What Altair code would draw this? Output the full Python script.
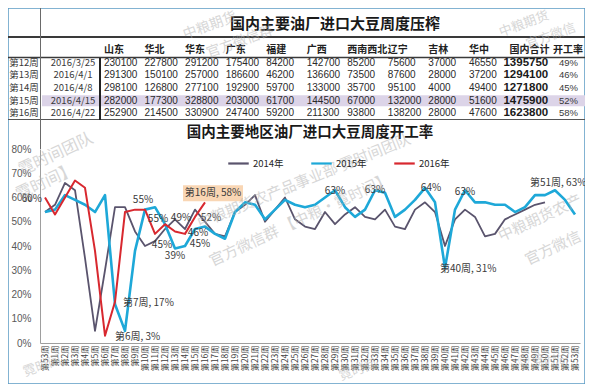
import altair as alt
import pandas as pd

# ---------------- data ----------------
WEEKS = ["第53周", "第1周", "第2周", "第3周", "第4周", "第5周", "第6周", "第7周", "第8周", "第9周",
         "第10周", "第11周", "第12周", "第13周", "第14周", "第15周", "第16周", "第17周", "第18周", "第19周",
         "第20周", "第21周", "第22周", "第23周", "第24周", "第25周", "第26周", "第27周", "第28周", "第29周",
         "第30周", "第31周", "第32周", "第33周", "第34周", "第35周", "第36周", "第37周", "第38周", "第39周",
         "第40周", "第41周", "第42周", "第43周", "第44周", "第45周", "第46周", "第47周", "第48周", "第49周",
         "第50周", "第51周", "第52周", "第53周\u200b"]

SERIES = ["2014年", "2015年", "2016年"]
RATE_2014 = [54, 57, 66, 63, 35, 5, 30, 56, 56, 46,
             40, 42, 47, 51, 47, 55, 50, 45, 44, 54,
             57, 61, 50, 55, 60, 51, 48, 47, 54, 49,
             53, 56, 52, 51, 55, 48, 47, 55, 58, 54,
             40, 51, 55, 52, 44, 45, 51, 53, 55, 57, 58]
RATE_2015 = [54, 55, 61, 59, 57, 54, 61, 16, 5, 38,
             55, 56, 49, 39, 40, 47, 48, 45, 43, 54,
             58, 57, 51, 55, 59, 57, 56, 57, 60, 63,
             56, 52, 55, 63, 62, 52, 55, 59, 64, 58,
             31, 55, 63, 58, 58, 57, 57, 54, 56, 61,
             61, 63, 59, 53]
RATE_2016 = [60, 53, 60, 67, 64, 38, 3, 17, 54, 55, 55, 45, 49, 46, 45, 52, 58]

TABLE_TITLE = "国内主要油厂进口大豆周度压榨"
CHART_TITLE = "国内主要地区油厂进口大豆周度开工率"
TABLE_WEEKS = ["第12周", "第13周", "第14周", "第15周", "第16周"]
TABLE_DATES = ["2016/3/25", "2016/4/1", "2016/4/8", "2016/4/15", "2016/4/22"]
REGIONS = ["山东", "华北", "华东", "广东", "福建", "广西", "西南西北", "辽宁", "吉林", "华中"]
CRUSH_W12 = [230100, 227800, 291200, 175400, 84200, 142700, 85200, 75600, 37000, 46550]
CRUSH_W13 = [291300, 150100, 257000, 186600, 46200, 136600, 73500, 87600, 28000, 37200]
CRUSH_W14 = [298100, 126800, 277100, 192900, 59700, 133000, 35700, 95100, 4000, 49400]
CRUSH_W15 = [282000, 177300, 328800, 203000, 61700, 144500, 67000, 132000, 28000, 51600]
CRUSH_W16 = [252900, 214500, 330900, 247400, 59200, 211300, 93800, 138200, 28000, 47600]
TOTALS = [1395750, 1294100, 1271800, 1475900, 1623800]
RATES = [49, 46, 45, 52, 58]
TOTAL_HEADER = "国内合计"
RATE_HEADER = "开工率"
HIGHLIGHT_WEEK = "第15周"

# ---------------- styles ----------------
CJK = "Noto Sans CJK SC"
NUM = "Liberation Sans"
W, H = 577, 376
COLORS = ["#5a546d", "#1ea8d8", "#d8282f"]
WIDTHS = [1.8, 2.6, 2.0]

week_scale = alt.Scale(type="point", domain=WEEKS, range=[32, 572], padding=0.5)
rate_scale = alt.Scale(type="linear", domain=[0, 80], range=[335, 141], nice=False, zero=False)
color_scale = alt.Scale(domain=SERIES, range=COLORS)

x_axis = alt.Axis(title=None, labelAngle=-90, labelFont=CJK, labelFontSize=8.3, labelColor="#404040",
                  labelPadding=2, ticks=False, domainColor="#9e9e9e", grid=False, offset=-41,
                  labelOverlap=False)
y_axis = alt.Axis(title=None, values=[0, 10, 20, 30, 40, 50, 60, 70, 80], labelExpr="datum.value + '%'",
                  labelFont=NUM, labelFontSize=10, labelColor="#595959", labelPadding=9, ticks=False,
                  domainColor="#9e9e9e", grid=False, offset=-32)
legend = alt.Legend(title=None, orient="none", legendX=219, legendY=144, direction="horizontal",
                    symbolType="stroke", symbolSize=420, symbolStrokeWidth=2.2, labelFont=CJK,
                    labelFontSize=9.5, labelColor="#262626", labelOffset=3, columnPadding=22, padding=0)

series_vals = {"2014年": RATE_2014, "2015年": RATE_2015, "2016年": RATE_2016}
dummy = pd.DataFrame({"d": [0]})


def xw(axis=None):
    return alt.X("week:N", scale=week_scale, axis=axis)


def yr(axis=None):
    return alt.Y("v:Q", scale=rate_scale, axis=axis)


def hrule(y, x1, x2, color, w):
    return alt.Chart(dummy).mark_rule(color=color, strokeWidth=w).encode(
        y=alt.value(y), x=alt.value(x1), x2=alt.value(x2))


def vrule(x, y1, y2, color, w):
    return alt.Chart(dummy).mark_rule(color=color, strokeWidth=w).encode(
        x=alt.value(x), y=alt.value(y1), y2=alt.value(y2))


def note(text, x, y, size, color, angle=0, weight="normal", opacity=1.0, font=CJK):
    return alt.Chart(pd.DataFrame({"t": [text]})).mark_text(
        fontSize=size, font=font, color=color, angle=angle, fontWeight=weight, opacity=opacity,
        align="center", baseline="middle").encode(x=alt.value(x), y=alt.value(y), text="t:N")


def point_label(series, idx, fmt, dx=0, dy=0, align="center"):
    v = series_vals[series][idx]
    txt = fmt.format(w=WEEKS[idx], v=v)
    df = pd.DataFrame({"week": [WEEKS[idx]], "v": [v], "t": [txt]})
    return alt.Chart(df).mark_text(align=align, baseline="middle", dx=dx, dy=dy, fontSize=10,
                                   font=CJK, color="#3a3a3a").encode(x=xw(), y=yr(), text="t:N")


layers = []

# ---------------- table ----------------
HEADER_ROW = "表头"
tx_scale = alt.Scale(type="point", domain=REGIONS + [TOTAL_HEADER, RATE_HEADER], range=[96, 542], padding=0)
ty_scale = alt.Scale(type="point", domain=[HEADER_ROW] + TABLE_WEEKS, range=[42, 105.3], padding=0)
rx_scale = alt.Scale(type="point", domain=["周次", "日期"], range=[16, 65], padding=0)

# highlighted row
layers.append(
    alt.Chart(pd.DataFrame({"row": [HIGHLIGHT_WEEK]})).mark_rule(color="#dcd4e8", strokeWidth=11).encode(
        y=alt.Y("row:N", scale=ty_scale, axis=None), x=alt.value(34), x2=alt.value(577)))

# table lines
layers += [
    hrule(29, 0, 577, "#3a3a3a", 2),
    hrule(49.5, 0, 577, "#3a3a3a", 1.5),
    hrule(111.5, 0, 577, "#555555", 1),
    vrule(32.5, 0, 141, "#6a6a6a", 1),
    vrule(92, 50, 112, "#222222", 2),
]

hdr_df = pd.DataFrame({"col": REGIONS + [TOTAL_HEADER], "row": [HEADER_ROW] * (len(REGIONS) + 1),
                       "t": REGIONS + [TOTAL_HEADER]})
layers.append(alt.Chart(hdr_df).mark_text(align="left", baseline="middle", fontSize=10, font=CJK,
                                          fontWeight="bold", color="#222222").encode(
    x=alt.X("col:N", scale=tx_scale, axis=None), y=alt.Y("row:N", scale=ty_scale, axis=None), text="t:N"))
rate_hdr_df = pd.DataFrame({"col": [RATE_HEADER], "row": [HEADER_ROW], "t": [RATE_HEADER]})
layers.append(alt.Chart(rate_hdr_df).mark_text(align="right", baseline="middle", dx=33, fontSize=10, font=CJK,
                                               fontWeight="bold", color="#222222").encode(
    x=alt.X("col:N", scale=tx_scale, axis=None), y=alt.Y("row:N", scale=ty_scale, axis=None), text="t:N"))

crush = [CRUSH_W12, CRUSH_W13, CRUSH_W14, CRUSH_W15, CRUSH_W16]
cells = []
for r, wk in enumerate(TABLE_WEEKS):
    for c, reg in enumerate(REGIONS):
        cells.append({"col": reg, "row": wk, "t": str(crush[r][c])})
cells_df = pd.DataFrame(cells)
layers.append(alt.Chart(cells_df).mark_text(align="left", baseline="middle", fontSize=10, font=NUM,
                                            color="#2a2a2a").encode(
    x=alt.X("col:N", scale=tx_scale, axis=None), y=alt.Y("row:N", scale=ty_scale, axis=None), text="t:N"))

tot_df = pd.DataFrame({"col": [TOTAL_HEADER] * 5, "row": TABLE_WEEKS, "t": [str(v) for v in TOTALS]})
layers.append(alt.Chart(tot_df).mark_text(align="left", baseline="middle", dx=-6, fontSize=11.5, font=NUM,
                                          fontWeight="bold", color="#1a1a1a").encode(
    x=alt.X("col:N", scale=tx_scale, axis=None), y=alt.Y("row:N", scale=ty_scale, axis=None), text="t:N"))

rate_df = pd.DataFrame({"col": [RATE_HEADER] * 5, "row": TABLE_WEEKS, "t": [f"{v}%" for v in RATES]})
layers.append(alt.Chart(rate_df).mark_text(align="right", baseline="middle", dx=28, fontSize=9.5, font=NUM,
                                           color="#3a3a3a").encode(
    x=alt.X("col:N", scale=tx_scale, axis=None), y=alt.Y("row:N", scale=ty_scale, axis=None), text="t:N"))

rh = []
for wk, dt in zip(TABLE_WEEKS, TABLE_DATES):
    rh.append({"k": "周次", "row": wk, "t": wk})
    rh.append({"k": "日期", "row": wk, "t": dt})
rh_df = pd.DataFrame(rh)
layers.append(alt.Chart(rh_df).mark_text(align="center", baseline="middle", fontSize=9.5, font=CJK,
                                         color="#3a3a3a").encode(
    x=alt.X("k:N", scale=rx_scale, axis=None), y=alt.Y("row:N", scale=ty_scale, axis=None), text="t:N"))

# titles
layers.append(note(TABLE_TITLE, 327, 16, 15, "#1a1a1a", weight="bold"))
layers.append(note(CHART_TITLE, 302, 125, 14.5, "#1a1a1a", weight="bold"))

# ---------------- lines ----------------
for k, s in enumerate(SERIES):
    vals = series_vals[s]
    df = pd.DataFrame({"week": WEEKS[:len(vals)], "v": vals, "order": list(range(len(vals))),
                       "series": [s] * len(vals)})
    layers.append(alt.Chart(df).mark_line(strokeWidth=WIDTHS[k], strokeJoin="round").encode(
        x=xw(x_axis if k == 0 else None),
        y=yr(y_axis if k == 0 else None),
        color=alt.Color("series:N", scale=color_scale, legend=legend),
        order="order:Q"))

# peach box behind the week-16 label, anchored at the data point
box_df = pd.DataFrame({"week": [WEEKS[16]], "v": [RATE_2016[16]]})
layers.append(alt.Chart(box_df).mark_point(
    shape="M-0.55,-0.425L0.95,-0.425L0.95,-0.025L-0.55,-0.025Z", size=6400, filled=True,
    fill="#f9d6b4", strokeWidth=0, opacity=1).encode(x=xw(), y=yr()))

# data labels
layers += [
    point_label("2016年", 0, "{v}%", dx=-3, dy=1, align="right"),
    point_label("2015年", 10, "{v}%", dx=-2, dy=-10),
    point_label("2016年", 10, "{v}%", dx=13, dy=9),
    point_label("2016年", 11, "{v}%", dx=7, dy=11),
    point_label("2016年", 12, "{v}%", dx=16, dy=-6),
    point_label("2015年", 13, "{v}%", dx=0, dy=8),
    point_label("2016年", 13, "{v}%", dx=23, dy=2),
    point_label("2016年", 14, "{v}%", dx=15, dy=10),
    point_label("2016年", 15, "{v}%", dx=16, dy=1),
    point_label("2016年", 16, "{w}, {v}%", dx=8, dy=-9),
    point_label("2015年", 29, "{v}%", dx=0, dy=1),
    point_label("2015年", 33, "{v}%", dx=0, dy=0),
    point_label("2015年", 38, "{v}%", dx=6, dy=0),
    point_label("2015年", 42, "{v}%", dx=0, dy=2),
    point_label("2015年", 51, "{w}, {v}%", dx=-25, dy=-7, align="left"),
    point_label("2015年", 40, "{w}, {v}%", dx=-5, dy=1, align="left"),
    point_label("2016年", 7, "{w}, {v}%", dx=8, dy=1, align="left"),
    point_label("2016年", 6, "{w}, {v}%", dx=10, dy=1, align="left"),
]

# faint watermarks
WM_COLOR = "#b0b0b0"
for text, x, y, ang, size in [
    ("中粮期货", 202, 18, 340, 14),
    ("官方微信群", 232, 34, 340, 14),
    ("中粮期货", 516, 16, 340, 13),
    ("官方微信", 543, 28, 340, 13),
    ("霓时间团队", 48, 146, 335, 16),
    ("霓时间】", 38, 174, 335, 16),
    ("中粮期货农产品事业部 霓时间团队", 296, 173, 338, 15),
    ("官方微信群 【中粮•霓时间】", 292, 212, 335, 15),
    ("中粮期货农产", 532, 210, 335, 15),
    ("官方微信", 545, 240, 335, 15),
    ("霓时间", 34, 358, 340, 13),
    ("霓时间", 350, 362, 340, 13),
    ("◎ 霓时间", 535, 353, 0, 12),
]:
    layers.append(note(text, x, y, size, WM_COLOR, angle=ang, opacity=0.5))

chart = alt.layer(*layers).resolve_scale(x="independent", y="independent").properties(
    width=W, height=H, padding=0, autosize=alt.AutoSizeParams(type="none"),
    background="white").configure_view(stroke="#5b9bc4", strokeWidth=1.5)

chart.save("out.html", embed_options={"renderer": "svg", "actions": False})
